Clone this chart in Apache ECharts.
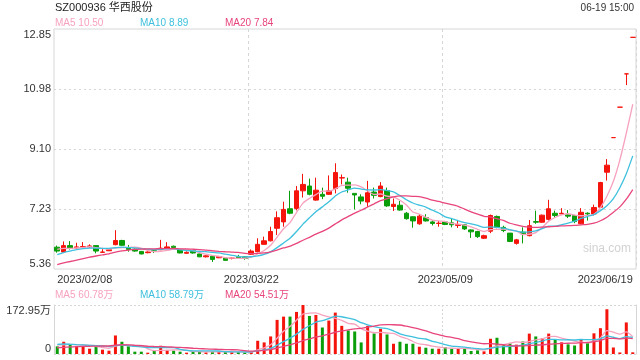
<!DOCTYPE html>
<html><head><meta charset="utf-8">
<script src="https://cdn.jsdelivr.net/npm/echarts@6/dist/echarts.min.js"></script>
<style>html,body{margin:0;padding:0;background:#fff}#c{width:640px;height:360px}</style>
</head><body><div id="c"></div>
<script>
// ---- data ----
const dates = [
'2023/02/08','2023/02/09','2023/02/10','2023/02/13','2023/02/14','2023/02/15','2023/02/16','2023/02/17','2023/02/20','2023/02/21','2023/02/22','2023/02/23','2023/02/24','2023/02/27','2023/02/28',
'2023/03/01','2023/03/02','2023/03/03','2023/03/06','2023/03/07','2023/03/08','2023/03/09','2023/03/10','2023/03/13','2023/03/14','2023/03/15','2023/03/16','2023/03/17','2023/03/20','2023/03/21','2023/03/22','2023/03/23','2023/03/24','2023/03/27','2023/03/28','2023/03/29','2023/03/30','2023/03/31',
'2023/04/03','2023/04/04','2023/04/06','2023/04/07','2023/04/10','2023/04/11','2023/04/12','2023/04/13','2023/04/14','2023/04/17','2023/04/18','2023/04/19','2023/04/20','2023/04/21','2023/04/24','2023/04/25','2023/04/26','2023/04/27','2023/04/28',
'2023/05/04','2023/05/05','2023/05/08','2023/05/09','2023/05/10','2023/05/11','2023/05/12','2023/05/15','2023/05/16','2023/05/17','2023/05/18','2023/05/19','2023/05/22','2023/05/23','2023/05/24','2023/05/25','2023/05/26','2023/05/29','2023/05/30','2023/05/31',
'2023/06/01','2023/06/02','2023/06/05','2023/06/06','2023/06/07','2023/06/08','2023/06/09','2023/06/12','2023/06/13','2023/06/14','2023/06/15','2023/06/16','2023/06/19'];

const opens = [6.04,5.89,6.09,6.02,6.04,6.05,6.09,5.88,5.93,6.12,6.25,6.03,5.98,5.91,5.87,5.93,5.96,6.00,6.07,5.97,5.85,5.93,5.83,5.74,5.76,5.71,5.70,5.69,5.75,5.74,
5.82,5.90,6.13,6.24,6.63,6.83,7.24,7.25,7.80,7.95,7.51,7.69,7.69,7.87,8.20,8.07,7.72,7.61,7.45,7.76,7.62,7.81,7.31,7.35,7.10,6.99,6.77,6.96,6.83,6.78,
6.83,6.80,6.72,6.74,6.58,6.53,6.32,6.54,7.00,6.66,6.48,6.16,6.51,6.40,6.84,6.82,6.91,7.10,7.08,7.05,7.03,6.77,7.10,7.08,7.29,8.38,9.46,10.41,11.45,12.59];
const closes = [5.92,6.09,6.01,6.05,6.06,6.08,5.92,5.89,5.96,6.25,6.10,5.97,5.92,5.83,5.89,5.91,6.01,6.05,6.03,5.86,5.88,5.86,5.74,5.77,5.66,5.75,5.63,5.70,5.71,5.69,
5.92,6.13,6.24,6.53,6.96,7.22,7.10,7.80,8.00,7.69,7.82,7.63,7.80,8.37,8.21,7.88,7.67,7.48,7.74,7.66,7.95,7.33,7.38,7.20,6.93,6.86,7.01,6.86,6.78,6.79,
6.75,6.74,6.75,6.61,6.52,6.37,6.40,7.03,6.66,6.56,6.22,6.27,6.46,6.71,6.82,7.04,7.24,7.03,7.10,7.01,6.84,7.13,7.08,7.28,8.06,8.60,9.46,10.41,11.45,12.59];
const lows = [5.87,5.86,5.97,6.00,6.02,6.03,5.85,5.86,5.92,6.10,6.08,5.90,5.90,5.82,5.85,5.86,5.95,5.99,6.01,5.85,5.84,5.84,5.73,5.72,5.58,5.70,5.62,5.66,5.70,5.65,
5.80,5.88,6.12,6.22,6.42,6.68,7.07,7.19,7.59,7.66,7.49,7.54,7.67,7.72,8.00,7.74,7.22,7.38,7.30,7.56,7.60,7.30,7.17,7.18,6.90,6.65,6.74,6.84,6.72,6.68,
6.73,6.66,6.64,6.58,6.33,6.33,6.30,6.48,6.63,6.51,6.20,6.12,6.16,6.38,6.77,6.80,6.87,6.97,7.07,6.95,6.79,6.76,6.87,7.03,7.27,8.12,9.46,10.41,11.10,12.59];
const highs = [6.09,6.22,6.23,6.18,6.20,6.13,6.10,5.99,6.00,6.57,6.27,6.11,6.00,5.92,5.91,5.98,6.27,6.20,6.09,5.98,5.91,5.95,5.84,5.79,5.78,5.77,5.71,5.72,5.80,5.76,
5.97,6.32,6.37,6.68,7.16,7.46,7.80,7.95,8.33,8.18,8.21,7.90,8.28,8.66,8.31,8.21,7.72,7.69,8.11,7.90,8.07,7.90,7.56,7.48,7.14,7.00,7.07,7.07,6.88,6.86,
6.86,6.92,6.87,6.76,6.60,6.55,6.43,7.06,7.03,6.71,6.48,6.30,6.66,6.89,7.18,7.06,7.52,7.18,7.26,7.20,7.05,7.26,7.13,7.37,8.08,8.79,9.46,10.41,11.45,12.59];
// volume, unit 万 (10k shares)
const volumes = [26.9,43.2,35,27,27,18.7,27,15.2,11.7,65.4,43.2,27,8.2,8.2,4.7,12.8,29.2,12.8,11.7,8.2,4.7,9.3,8.2,5.8,8.2,7,8.2,7,7,5.8,
7,46.7,40.9,62,120.4,132,132,148.5,172.95,134.4,137.9,93.5,118,146.1,99.4,83,79.5,40.9,99.4,72.5,88.8,69,36.2,43.2,36.2,36.2,25.7,22.2,18.7,18.7,
24.5,18.7,18.7,19.9,10.5,12.8,9.3,53.8,57.3,31.5,38,33,44,72,62,55,72,51,41.3,34,30,51,39,73,91,158,23,5.5,111.4,6];
// sessions just before 2023/02/08 (not drawn, only feed the moving averages; estimated)
const priorCloses = [5.10,5.12,5.15,5.14,5.18,5.20,5.22,5.25,5.24,5.30,5.45,5.55,5.62,5.75,5.88,5.92,6.02,5.95,6.04];
const priorVolumes = [9,11,8,12,10,9,11,10,9,11,30,45,40,38,32,35,30,33,30.1];

const priceTickLabels = ['5.36','7.23','9.10','10.98','12.85'];
const volTickLabels = ['0','172.95万'];
const xLabelDates = ['2023/02/08','2023/03/22','2023/05/09','2023/06/19'];
const titleText = 'SZ000936 华西股份';
const timeText = '06-19 15:00';
const priceLegend = ['MA5 10.50','MA10 8.89','MA20 7.84'];
const volLegend = ['MA5 60.78万','MA10 58.79万','MA20 54.51万'];
const maPeriods = [5,10,20];

// ---- styles ----
const UP = '#f5140c', DOWN = '#0b9e0b';
const MA_COLORS = ['#f6a2bf','#3ec0de','#e8457b'];
const FONT = '"Liberation Sans", Arial, "Noto Sans CJK SC", sans-serif';
const GRIDC = '#d6d6d6';

function ma(n, prior, vals){
  const all = prior.concat(vals), off = prior.length;
  return vals.map((_, i) => { let s = 0; for (let k = 0; k < n; k++) s += all[off + i - k]; return +(s / n).toFixed(4); });
}

const pMin = parseFloat(priceTickLabels[0]), pMax = parseFloat(priceTickLabels[priceTickLabels.length-1]);
const pInt = (pMax - pMin) / (priceTickLabels.length - 1);
const vMax = parseFloat(volTickLabels[1]);

const candles = dates.map((d,i) => [opens[i], closes[i], lows[i], highs[i]]);
const volData = volumes.map((v,i) => {
  let up = closes[i] > opens[i] || (closes[i] === opens[i] && (i === 0 || closes[i] >= closes[i-1]));
  return { value: v, itemStyle: { color: up ? UP : DOWN } };
});
const innerDates = xLabelDates.slice(1, -1);
const splitFn = (idx) => innerDates.indexOf(dates[idx]) >= 0;
const labelFn = (idx) => xLabelDates.indexOf(dates[idx]) >= 0;

const series = [{
  type: 'candlestick', xAxisIndex: 0, yAxisIndex: 0, data: candles, barWidth: 5,
  itemStyle: { color: UP, color0: DOWN, borderColor: UP, borderColor0: DOWN, borderWidth: 1 }
}];
maPeriods.forEach((n, k) => series.push({
  type: 'line', xAxisIndex: 0, yAxisIndex: 0, data: ma(n, priorCloses, closes), showSymbol: false, smooth: 0.2,
  lineStyle: { color: MA_COLORS[k], width: 1.3 }, z: 3
}));
series.push({ type: 'bar', xAxisIndex: 1, yAxisIndex: 1, data: volData, barWidth: 3 });
maPeriods.forEach((n, k) => series.push({
  type: 'line', xAxisIndex: 1, yAxisIndex: 1, data: ma(n, priorVolumes, volumes), showSymbol: false, smooth: 0.2,
  lineStyle: { color: MA_COLORS[k], width: 1.3 }, z: 3
}));

const graphics = [
  { type: 'text', left: 55, top: 2, style: { text: titleText, font: '11px ' + FONT, fill: '#222' } },
  { type: 'text', right: 6, top: 3, style: { text: timeText, font: '10px ' + FONT, fill: '#333' } },
  { type: 'text', left: 583, top: 243, style: { text: 'sina.com', font: '12px ' + FONT, fill: '#d2d2d2' } }
];
const legX = [55, 140, 225];
priceLegend.forEach((t, k) => graphics.push({ type: 'text', left: legX[k], top: 18, style: { text: t, font: '10px ' + FONT, fill: MA_COLORS[k] } }));
volLegend.forEach((t, k) => graphics.push({ type: 'text', left: legX[k], top: 290, style: { text: t, font: '10px ' + FONT, fill: MA_COLORS[k] } }));

const chart = echarts.init(document.getElementById('c'), null, { renderer: 'canvas' });
chart.setOption({
  animation: false,
  backgroundColor: '#fff',
  textStyle: { fontFamily: FONT },
  grid: [
    { left: 54, top: 29, width: 582, height: 240, show: true, borderColor: GRIDC, borderWidth: 1, outerBoundsMode: 'none', containLabel: false },
    { left: 54, top: 305, width: 582, height: 49, outerBoundsMode: 'none', containLabel: false }
  ],
  xAxis: [
    { type: 'category', gridIndex: 0, data: dates, boundaryGap: true,
      axisLine: { show: false }, axisTick: { show: false },
      axisLabel: { interval: labelFn, fontSize: 11, color: '#333', margin: 5, fontFamily: FONT, alignMinLabel: 'left', alignMaxLabel: 'right', hideOverlap: false },
      splitLine: { show: true, interval: splitFn, lineStyle: { color: GRIDC, type: [3, 3], width: 1 } } },
    { type: 'category', gridIndex: 1, data: dates, boundaryGap: true,
      axisLine: { show: false }, axisTick: { show: false }, axisLabel: { show: false },
      splitLine: { show: true, interval: splitFn, lineStyle: { color: GRIDC, type: [2, 2], width: 1 } } }
  ],
  yAxis: [
    { type: 'value', gridIndex: 0, min: pMin, max: pMax, interval: pInt, scale: true,
      axisLine: { show: false }, axisTick: { show: false },
      axisLabel: { fontSize: 11, color: '#333', margin: 3, fontFamily: FONT,
        formatter: (v) => priceTickLabels[Math.round((v - pMin) / pInt)],
        verticalAlignMinLabel: 'bottom', verticalAlignMaxLabel: 'top' },
      splitLine: { show: true, showMinLine: false, showMaxLine: false, lineStyle: { color: GRIDC, type: [2, 3], width: 1 } } },
    { type: 'value', gridIndex: 1, min: 0, max: vMax, interval: vMax,
      axisLine: { show: true, lineStyle: { color: GRIDC } }, axisTick: { show: false },
      axisLabel: { fontSize: 11, color: '#333', margin: 3, fontFamily: FONT,
        formatter: (v) => volTickLabels[Math.round(v / vMax)],
        verticalAlignMinLabel: 'bottom', verticalAlignMaxLabel: 'top' },
      splitLine: { show: true, lineStyle: { color: GRIDC, type: [2, 2], width: 1 } } },
    { type: 'value', gridIndex: 1, min: 0, max: vMax, interval: vMax, position: 'right',
      axisLine: { show: true, lineStyle: { color: GRIDC } }, axisTick: { show: false },
      axisLabel: { show: false }, splitLine: { show: false } }
  ],
  graphic: graphics,
  series: series
});
</script>
</body></html>
